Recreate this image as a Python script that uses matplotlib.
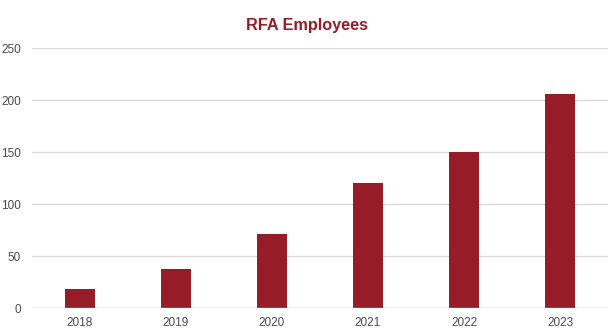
import matplotlib.pyplot as plt

years = ['2018', '2019', '2020', '2021', '2022', '2023']
employees = [19, 38, 71, 120, 150, 206]
yticks = [0, 50, 100, 150, 200, 250]

bar_color = '#961c27'

plt.rcParams['font.family'] = ['Liberation Sans', 'DejaVu Sans']

fig = plt.figure(figsize=(6.13, 3.30), dpi=100)
ax = fig.add_axes([0.0522, 0.0658, 0.9397, 0.7887])

x = range(len(years))
ax.bar(x, employees, width=0.31, color=bar_color, zorder=3)

ax.set_xlim(-0.5, len(years) - 0.5)
ax.set_ylim(0, 250)
ax.set_yticks(yticks)
ax.set_xticks(list(x))
ax.set_xticklabels(years)
ax.grid(axis='y', color='#d9d9d9', linewidth=1, zorder=0)
ax.axhline(0, color='#cccccc', linewidth=1, zorder=4)

for s in ax.spines.values():
    s.set_visible(False)
ax.tick_params(axis='both', length=0, labelsize=8.5, labelcolor='#4a4a4a')
ax.tick_params(axis='y', pad=8)
ax.tick_params(axis='x', pad=6)

fig.text(0.5, 0.922, 'RFA Employees', ha='center', va='center',
         fontsize=11.7, fontweight='bold', color=bar_color)

fig.savefig('out.png', dpi=100)
